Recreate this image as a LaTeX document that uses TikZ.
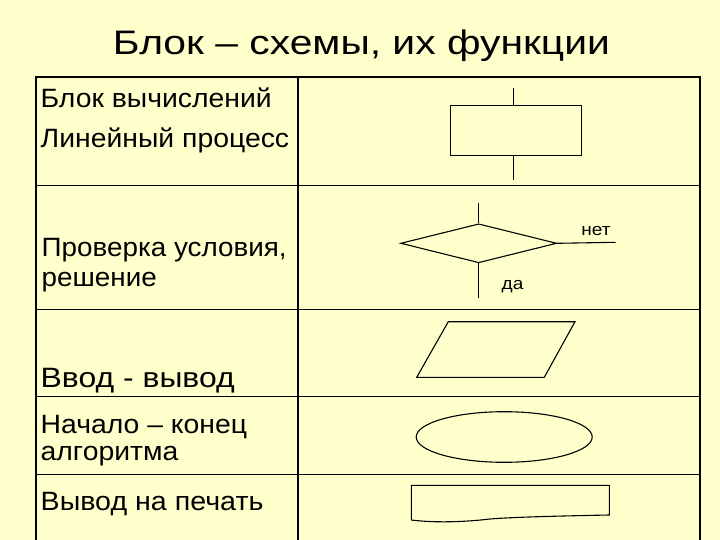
\documentclass[tikz,border=0pt]{standalone}
\usepackage{fontspec}
\setmainfont{Liberation Sans}
\usetikzlibrary{shapes.geometric}
\definecolor{bgyellow}{RGB}{255,255,204}
\newcommand\hstretch[2]{\scalebox{#1}[1]{#2}}
\tikzset{
  frame/.style={line width=2.6pt, line cap=rect},
  grid/.style={line width=1.4pt},
  shapeline/.style={line width=1.1pt},
  label/.style={anchor=base west, inner sep=0pt, font=\fontsize{26.5}{30}\selectfont},
  small/.style={anchor=base, inner sep=0pt, font=\fontsize{17}{19}\selectfont},
}
\begin{document}
\begin{tikzpicture}[x=1pt,y=-1pt]
\fill[bgyellow] (0,0) rectangle (720,540);
\useasboundingbox (0,0) rectangle (720,540);
% title
\node[anchor=base, inner sep=0pt, font=\fontsize{34}{38}\selectfont] (title) at (361.4,54.5) {\hstretch{1.2}{Блок – схемы, их функции}};
% table
\coordinate (tl) at (36,77);
\coordinate (tr) at (700,77);
\coordinate (bl) at (36,540);
\coordinate (br) at (700,540);
\coordinate (mt) at (298,77);
\coordinate (mb) at (298,540);
\draw[grid] (mt) -- (mb);
\foreach \y/\n in {185.5/a,309.3/b,396.7/c,474.3/d}{
  \coordinate (L\n) at (36,\y);
  \coordinate (R\n) at (700,\y);
  \draw[grid] (L\n) -- (R\n);
}
\draw[frame] (tl) -- (tr);
\draw[frame] (tl) -- (bl);
\draw[frame] (tr) -- (br);
% labels
\node[label] (l1) at (40.5,107.3) {\hstretch{1.07}{Блок вычислений}};
\node[label] (l2) at (40.5,147.3) {\hstretch{1.07}{Линейный процесс}};
\node[label] (l3) at (41.5,256.7) {\hstretch{1.05}{Проверка условия,}};
\node[label] (l4) at (41.5,286.7) {\hstretch{1.05}{решение}};
\node[label, font=\fontsize{28}{32}\selectfont] (l5) at (40.5,387.3) {\hstretch{1.14}{Ввод - вывод}};
\node[label] (l6) at (40.5,433.3) {\hstretch{1.07}{Начало – конец}};
\node[label] (l7) at (40.5,460.7) {\hstretch{1.07}{алгоритма}};
\node[label] (l8) at (40.5,510) {\hstretch{1.08}{Вывод на печать}};
% process block
\node[draw, shapeline, minimum width=131pt, minimum height=50.7pt, inner sep=0pt] (calc) at (516.2,130.6) {};
\coordinate (cin) at (513.7,88.3);
\coordinate (cout) at (513.7,180);
\draw[shapeline] (cin) -- (cin |- calc.north);
\draw[shapeline] (cout |- calc.south) -- (cout);
% decision
\node[draw, shapeline, diamond, minimum width=156pt, minimum height=39pt, inner sep=0pt] (dec) at (478.7,243.3) {};
\coordinate (din) at (478.7,202.7);
\coordinate (dyes) at (478.7,298.3);
\coordinate (dno) at (615.7,242.3);
\draw[shapeline] (din) -- (dec.north);
\draw[shapeline] (dec.south) -- (dyes);
\draw[shapeline] (dec.east) -- (dno);
\node[small] (no) at (596,236) {\hstretch{1.12}{нет}};
\node[small] (yes) at (512.5,289.3) {\hstretch{1.12}{да}};
% input/output
\coordinate (p1) at (448.3,321.7);
\coordinate (p2) at (575,321.7);
\coordinate (p3) at (544.3,377.3);
\coordinate (p4) at (416.7,377.3);
\draw[shapeline, line join=miter] (p1) -- (p2) -- (p3) -- (p4) -- cycle;
% start/end
\node[draw, shapeline, ellipse, minimum width=176pt, minimum height=50.6pt, inner sep=0pt] (term) at (504.2,437) {};
% print
\coordinate (q1) at (411.3,485.3);
\coordinate (q2) at (609.3,485.3);
\coordinate (q3) at (609.3,515);
\coordinate (qm) at (490,519);
\coordinate (q4) at (411.3,520);
\draw[shapeline] (q4) -- (q1) -- (q2) -- (q3) .. controls (560,516) and (515,517) .. (qm) .. controls (465,522) and (435,523) .. (q4);
\end{tikzpicture}
\end{document}
